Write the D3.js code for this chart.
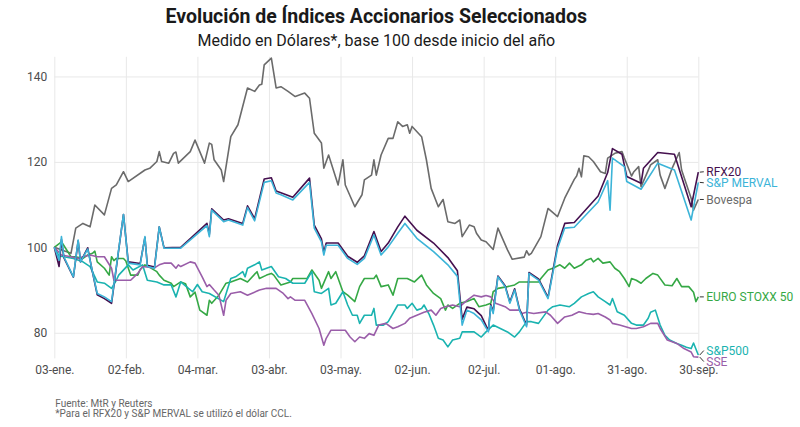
<!DOCTYPE html>
<html>
<head>
<meta charset="utf-8">
<script src="https://cdn.jsdelivr.net/npm/d3@7"></script>
<style>
  body { margin: 0; background: #fff; }
  svg { font-family: Roboto, "Noto Sans", sans-serif; display: block; }
</style>
</head>
<body>
<div id="chart"></div>
<script>
// day offsets counted from START, values base 100
const START = "2022-01-03"
const TICK_DATES = ["2022-01-03","2022-02-02","2022-03-04","2022-04-03","2022-05-03",
  "2022-06-02","2022-07-02","2022-08-01","2022-08-31","2022-09-30"]
const Y_TICKS = [80, 100, 120, 140]
const MONTHS = ["ene","feb","mar","abr","may","jun","jul","ago","sep","oct","nov","dic"]

const bovespa = [[0,100],[2,99.6],[4,99.2],[7,98.6],[9,104.5],[12,105.6],[15,104.8],[17,109.9],[21,107.6],
  [24,113.8],[26,114.6],[29,117.7],[31,115.4],[38,118.1],[40,118.5],[43,120.1],[44,122.4],[45,120.1],
  [48,119.7],[50,122.0],[51,122.3],[52,119.7],[57,122.4],[59,125.1],[63,119.7],[65,124.4],[66,124.1],
  [67,120.5],[70,118.1],[71,115.4],[74,125.9],[77,128.7],[81,137.3],[84,136.5],[86,138.0],[87,138.2],
  [88,142.7],[91,144.3],[93,137.3],[95,137.6],[98,136.5],[101,135.3],[105,136.1],[107,134.9],[109,126.7],
  [112,124.4],[113,118.5],[115,121.6],[119,114.6],[121,120.5],[122,114.6],[126,109.5],[129,112.3],
  [130,115.8],[133,116.9],[134,120.5],[135,116.9],[137,121.6],[140,125.5],[142,125.5],[144,129.4],
  [146,128.3],[148,128.7],[149,126.7],[150,128.3],[154,125.9],[156,120.5],[158,113.8],[161,109.5],
  [163,111.2],[165,106.0],[168,105.6],[170,106.4],[171,102.5],[174,105.2],[176,104.8],[177,103.3],
  [179,101.7],[181,101.3],[184,99.5],[186,104.5],[190,99.4],[192,97.2],[197,97.7],[198,99.2],[199,98.2],
  [200,98.6],[204,102.5],[207,109.1],[211,107.2],[214,111.5],[218,115.9],[219,116.7],[220,118.5],
  [221,116.5],[222,121.4],[224,121.2],[226,120.1],[229,117.7],[231,117.3],[232,120.9],[235,122.0],
  [238,122.4],[239,120.9],[242,116.7],[243,117.7],[245,118.9],[246,114.2],[250,119.3],[253,120.5],
  [254,116.9],[256,113.8],[259,118.5],[262,122.2],[263,118.1],[267,111.5],[268,108.7],[270,111.2]]

const rfx20 = [[0,100],[2,95.5],[3,101.8],[4,97.6],[8,93.0],[10,101.5],[11,96.6],[14,99.9],[16,94.2],
  [18,88.9],[21,88.0],[24,86.9],[29,107.7],[31,96.6],[36,96.2],[38,102.3],[39,95.8],[42,95.4],[44,104.8],
  [46,99.9],[53,100.0],[64,105.6],[65,103.0],[66,109.0],[71,106.4],[73,106.7],[79,105.6],[81,109.7],
  [84,106.7],[88,116.0],[91,116.3],[93,113.2],[95,112.8],[100,111.7],[107,116.2],[109,105.2],[112,102.0],
  [113,98.8],[114,101.0],[119,101.0],[123,97.9],[127,96.5],[130,98.0],[134,103.7],[137,99.0],[140,101.0],
  [144,104.8],[147,107.3],[152,104.0],[159,101.0],[165,97.6],[169,94.5],[171,83.2],[173,86.0],[176,85.6],
  [179,84.0],[182,80.5],[183,86.6],[184,85.0],[186,93.3],[189,91.0],[191,87.2],[193,90.3],[195,85.6],
  [198,81.8],[199,94.1],[203,92.6],[207,88.3],[211,100.5],[214,105.6],[218,105.8],[228,112.0],[232,117.5],
  [234,123.1],[238,121.8],[240,116.6],[246,115.0],[247,118.5],[253,122.2],[260,121.8],[267,109.5],[270,117.6]]

const merval = [[0,100],[2,97.0],[3,102.5],[4,97.8],[8,93.1],[10,101.7],[11,96.6],[14,99.6],[16,94.3],
  [18,89.2],[21,88.4],[24,87.3],[29,107.7],[31,96.3],[36,95.9],[38,102.5],[39,95.5],[42,95.1],[44,104.8],
  [46,99.8],[53,99.8],[64,105.1],[65,102.5],[66,108.7],[71,106.0],[73,106.4],[79,105.2],[81,109.3],
  [84,106.2],[88,115.2],[91,115.6],[93,112.7],[95,112.3],[100,111.1],[107,115.2],[109,104.5],[112,101.3],
  [113,98.2],[114,100.5],[119,100.5],[123,97.4],[127,96.0],[130,97.4],[134,102.9],[137,98.2],[140,100.1],
  [144,103.3],[147,105.6],[152,102.1],[159,99.0],[165,95.9],[169,93.2],[171,81.8],[173,85.3],[176,84.5],
  [179,83.0],[182,80.2],[183,86.3],[184,84.5],[186,93.1],[189,90.8],[191,86.9],[193,90.0],[195,85.3],
  [198,81.4],[199,93.9],[203,92.3],[207,88.0],[211,99.8],[214,104.5],[218,104.7],[228,110.6],[232,115.6],
  [233,108.7],[234,120.9],[239,118.9],[240,115.4],[246,113.6],[253,119.7],[260,118.1],[267,106.4],[270,115.2]]

const eurostoxx = [[0,100],[3,101.3],[7,97.8],[9,97.8],[12,97.4],[14,98.2],[16,98.6],[17,99.1],[18,96.6],
  [21,95.1],[23,93.5],[24,97.8],[25,96.9],[26,97.4],[29,97.4],[30,96.8],[32,93.5],[35,93.5],[36,94.8],
  [38,95.9],[40,95.3],[43,94.3],[44,93.5],[46,92.3],[49,91.6],[50,90.8],[53,91.9],[55,91.5],[57,88.4],
  [59,89.5],[61,85.3],[64,84.1],[65,87.6],[66,86.9],[69,88.8],[72,91.6],[74,91.9],[78,92.7],[81,91.9],
  [85,94.3],[86,92.7],[89,93.5],[91,93.9],[92,93.5],[95,91.2],[99,91.9],[100,92.7],[106,92.7],[108,94.7],
  [111,92.3],[112,90.4],[115,94.3],[116,92.7],[118,94.3],[121,89.6],[123,88.8],[126,87.3],[128,90.8],
  [130,92.7],[134,92.7],[135,93.5],[137,90.8],[140,91.2],[142,88.8],[144,92.7],[148,92.7],[151,91.9],
  [154,93.5],[156,91.2],[159,89.2],[162,88.0],[164,85.3],[165,86.5],[167,85.7],[170,86.9],[173,87.3],
  [176,88.0],[178,86.1],[181,86.5],[183,86.9],[184,89.6],[186,90.4],[190,90.8],[193,91.2],[195,91.9],
  [198,91.9],[203,91.9],[204,92.7],[207,94.7],[209,95.1],[212,95.9],[214,95.1],[216,96.3],[218,95.1],
  [221,95.9],[223,97.0],[225,97.4],[226,96.6],[228,97.4],[230,96.3],[233,96.6],[235,95.1],[237,94.3],
  [239,92.7],[241,90.8],[242,92.7],[244,92.3],[246,91.6],[248,92.7],[251,93.9],[253,93.5],[256,91.2],
  [259,91.0],[261,92.7],[263,90.8],[266,90.8],[268,89.5],[269,87.3],[270,88.4]]

const sp500 = [[0,100],[2,98.0],[4,97.8],[8,97.4],[12,96.6],[15,95.5],[18,91.9],[21,91.6],[24,90.4],
  [26,92.3],[27,93.5],[31,95.9],[33,94.7],[37,95.9],[39,92.3],[43,91.9],[46,91.2],[49,91.2],[51,88.4],
  [53,91.9],[55,91.0],[58,89.6],[60,91.3],[62,89.6],[65,89.2],[71,87.3],[74,92.7],[76,93.1],[79,94.3],
  [80,93.1],[81,95.1],[84,95.9],[86,96.6],[87,94.7],[91,95.5],[94,93.1],[97,92.7],[100,91.6],[105,91.6],
  [108,94.3],[109,89.6],[112,89.2],[115,90.4],[116,86.5],[118,86.9],[121,89.6],[123,86.5],[125,84.1],
  [127,84.1],[128,82.2],[130,84.1],[133,84.1],[134,85.7],[135,81.8],[138,81.8],[140,82.6],[144,86.5],
  [147,86.5],[148,85.7],[150,86.9],[152,85.3],[154,85.7],[155,86.5],[157,84.5],[159,81.8],[161,78.7],
  [163,78.3],[165,76.7],[167,78.3],[170,78.7],[171,80.2],[176,80.2],[179,79.0],[181,80.2],[184,81.8],
  [187,81.0],[190,80.2],[193,79.0],[195,80.2],[198,82.6],[200,82.6],[203,82.2],[207,85.3],[209,86.1],
  [212,86.5],[216,86.1],[218,86.9],[221,88.4],[224,89.2],[226,89.6],[228,88.4],[231,87.3],[233,86.5],
  [234,88.0],[236,84.9],[239,84.1],[242,82.2],[244,81.8],[247,81.8],[249,83.4],[250,84.8],[252,85.3],
  [254,81.8],[256,79.4],[258,78.3],[261,77.5],[263,77.1],[265,76.6],[267,76.3],[268,77.6],[270,74.8]]

const sse = [[0,100],[3,98.2],[7,97.8],[10,97.4],[12,97.8],[15,98.2],[18,97.8],[21,97.8],[24,95.1],
  [25,92.3],[32,92.3],[35,93.9],[37,95.5],[42,95.2],[44,95.9],[46,96.3],[49,96.3],[51,95.1],[52,95.9],
  [53,95.5],[57,96.6],[59,96.3],[62,93.1],[64,90.8],[65,91.3],[67,90.0],[69,88.8],[71,84.1],[72,87.6],
  [74,89.2],[78,89.6],[81,88.8],[86,90.0],[89,90.4],[93,90.4],[96,89.2],[98,88.0],[99,88.4],[101,87.6],
  [105,87.6],[108,84.5],[111,81.0],[113,77.1],[114,78.7],[116,80.6],[122,80.6],[124,79.0],[126,77.9],
  [128,79.0],[130,78.7],[132,79.8],[134,79.4],[136,81.8],[139,82.2],[142,81.0],[144,81.4],[147,82.2],
  [149,83.4],[152,84.1],[155,84.8],[158,85.3],[160,84.1],[162,85.7],[164,86.1],[167,86.5],[170,86.1],
  [173,87.6],[176,88.8],[179,88.4],[181,88.7],[183,88.4],[185,86.9],[189,86.1],[191,85.3],[195,85.3],
  [196,84.5],[198,84.8],[201,84.5],[206,84.9],[208,84.1],[211,82.2],[214,83.7],[217,84.1],[220,84.9],
  [223,84.5],[226,84.3],[228,84.5],[231,83.7],[233,83.0],[234,82.2],[237,81.8],[242,81.0],[244,81.0],
  [247,81.4],[250,82.2],[253,82.2],[254,81.0],[257,78.3],[261,77.5],[264,76.3],[267,75.5],[268,74.4],[270,74.3]]

const SERIES_NAMES = ["Bovespa", "EURO STOXX 50", "S&P500", "SSE", "RFX20", "S&P MERVAL"]
const SERIES_DATA = [bovespa, eurostoxx, sp500, sse, rfx20, merval]
const COLORS = ["#6b6b6b", "#35a845", "#1ab3b0", "#9a5ea9", "#45104f", "#3cb4d8"]

const W = 800, H = 427
const PANEL = {LEFT: 54.3, RIGHT: 698.3, TOP: 56.8, BOTTOM: 358.4}

const svg = d3.select("#chart").append("svg")
  .attr("width", W).attr("height", H)

const parse = d3.timeParse("%Y-%m-%d")
const start = parse(START)
const toDate = d => d3.timeDay.offset(start, d)

const x = d3.scaleTime()
  .domain([start, parse(TICK_DATES[TICK_DATES.length - 1])])
  .range([PANEL.LEFT, PANEL.RIGHT])
const y = d3.scaleLinear()
  .domain([74, 144.6])
  .range([PANEL.BOTTOM, PANEL.TOP])

const es = d3.timeFormatLocale({
  dateTime: "%x, %X", date: "%d/%m/%Y", time: "%-I:%M:%S %p", periods: ["AM", "PM"],
  days: ["domingo","lunes","martes","miércoles","jueves","viernes","sábado"],
  shortDays: ["dom","lun","mar","mié","jue","vie","sáb"],
  months: ["enero","febrero","marzo","abril","mayo","junio","julio","agosto","septiembre","octubre","noviembre","diciembre"],
  shortMonths: MONTHS
})
const fmt = es.format("%d-%b.")

// axes double as gridlines
const xAxis = svg.append("g")
  .attr("transform", `translate(0, ${PANEL.BOTTOM})`)
  .call(d3.axisBottom(x)
    .tickValues(TICK_DATES.map(parse))
    .tickSize(-(PANEL.BOTTOM - PANEL.TOP))
    .tickPadding(7)
    .tickFormat(fmt))
const yAxis = svg.append("g")
  .attr("transform", `translate(${PANEL.LEFT}, 0)`)
  .call(d3.axisLeft(y)
    .tickValues(Y_TICKS)
    .tickSize(-(PANEL.RIGHT - PANEL.LEFT))
    .tickPadding(7))

for (const g of [xAxis, yAxis]) {
  g.select(".domain").remove()
  g.selectAll("line").attr("stroke", "#e8e8e8").attr("stroke-width", 1)
  g.selectAll("text").attr("fill", "#4d4d4d").attr("font-size", 12)
    .attr("font-family", "Roboto, sans-serif")
}

// lines
const line = d3.line()
  .x(d => x(toDate(d[0])))
  .y(d => y(d[1]))

svg.append("g").selectAll("path")
  .data(SERIES_DATA)
  .join("path")
  .attr("d", line)
  .attr("fill", "none")
  .attr("stroke", (d, i) => COLORS[i])
  .attr("stroke-width", 1.6)
  .attr("stroke-linejoin", "round")

// end labels, pushed apart where they collide
const labels = SERIES_NAMES.map((name, i) => {
  const last = SERIES_DATA[i][SERIES_DATA[i].length - 1]
  return {name, color: COLORS[i], py: y(last[1]), ly: y(last[1])}
}).sort((a, b) => a.py - b.py)

const GAP = 11
for (let k = 0; k < 20; k++) {
  for (let i = 1; i < labels.length; i++) {
    const over = GAP - (labels[i].ly - labels[i - 1].ly)
    if (over > 0) {
      labels[i - 1].ly -= over / 2
      labels[i].ly += over / 2
    }
  }
}

const lab = svg.append("g")
lab.selectAll("line")
  .data(labels)
  .join("line")
  .attr("x1", PANEL.RIGHT + 1.5).attr("y1", d => d.py)
  .attr("x2", PANEL.RIGHT + 5.5).attr("y2", d => d.ly)
  .attr("stroke", "#333").attr("stroke-width", 1)
lab.selectAll("text")
  .data(labels)
  .join("text")
  .attr("x", PANEL.RIGHT + 8)
  .attr("y", d => d.ly)
  .attr("dy", "0.35em")
  .attr("font-size", 12)
  .attr("fill", d => d.color)
  .text(d => d.name)

// titles
const cx = (PANEL.LEFT + PANEL.RIGHT) / 2
svg.append("text")
  .attr("x", cx).attr("y", 23)
  .attr("text-anchor", "middle")
  .attr("font-size", 19.5).attr("font-weight", "bold")
  .attr("fill", "#1a1a1a")
  .text("Evolución de Índices Accionarios Seleccionados")
svg.append("text")
  .attr("x", cx).attr("y", 45.5)
  .attr("text-anchor", "middle")
  .attr("font-size", 16)
  .attr("fill", "#1a1a1a")
  .text("Medido en Dólares*, base 100 desde inicio del año")

// caption
svg.append("text")
  .attr("x", PANEL.LEFT + 1).attr("y", 406.5)
  .attr("font-size", 10).attr("fill", "#666")
  .text("Fuente: MtR y Reuters")
svg.append("text")
  .attr("x", PANEL.LEFT + 1).attr("y", 417)
  .attr("font-size", 10).attr("fill", "#666")
  .text("*Para el RFX20 y S&P MERVAL se utilizó el dólar CCL.")
</script>
</body>
</html>
